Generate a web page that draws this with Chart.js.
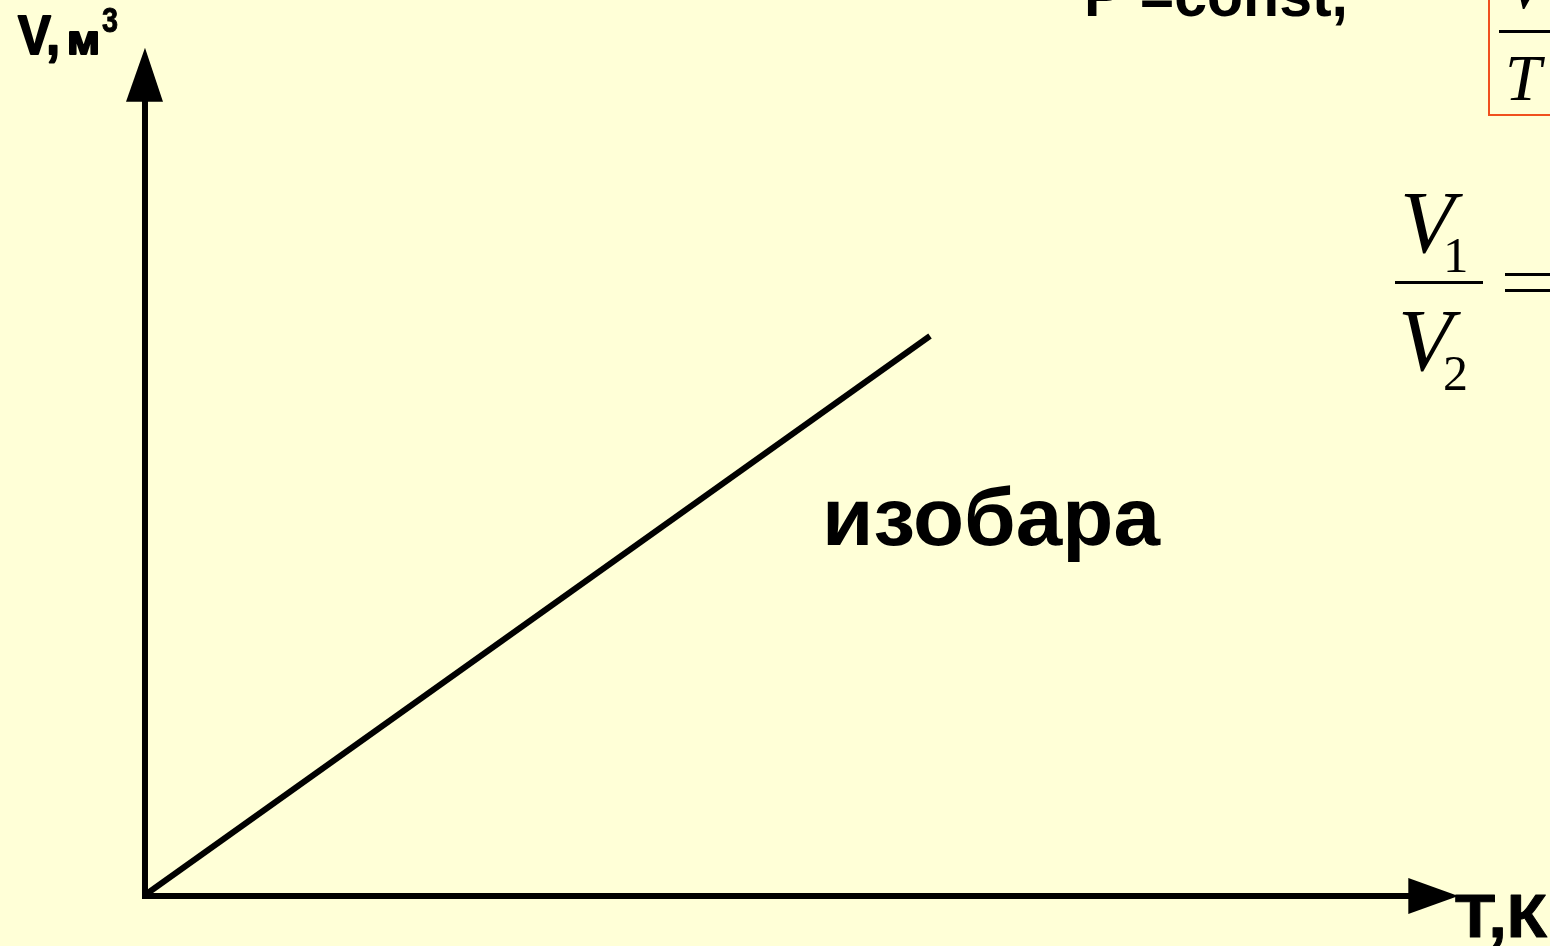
<!DOCTYPE html>
<html lang="ru">
<head>
  <meta charset="UTF-8" />
  <title>Изобара</title>
  <script src="https://cdn.jsdelivr.net/npm/chart.js"></script>
  <style>
    html, body { margin: 0; padding: 0; background: #FFFFD7; overflow: hidden; }
    canvas { display: block; }
  </style>
</head>
<body>
  <canvas id="isobar" width="1550" height="946"></canvas>

  <script>
    // isobar line: V grows linearly with T
    const temperature = [0, 100];
    const volume = [0, 70];

    // axis extents (in data units, where the arrow tips land)
    const tAxisRange = [-18.47, 178.98];
    const vAxisRange = [-6.39, 112.07];
    const tArrowTip = 167.3;
    const vArrowTip = 106.1;

    const axisLabelV = 'V,';
    const axisLabelVUnit = 'м';
    const axisLabelVPow = '3';
    const axisLabelT = 'Т,К';
    const lineLabel = 'изобара';
    const conditionLabel = 'Р =const,';

    const BG = '#FFFFD7';
    const SANS = '"Liberation Sans", Arial, sans-serif';
    const SERIF = '"Liberation Serif", "Times New Roman", serif';

    // draw text fitted to a given width, baseline at y
    function fitText(ctx, text, font, size, x, y, width, heavy) {
      ctx.save();
      ctx.font = font.replace('%s', size + 'px');
      const w = ctx.measureText(text).width;
      ctx.translate(x, y);
      ctx.scale(width ? width / w : 1, 1);
      ctx.fillText(text, 0, 0);
      if (heavy) {
        ctx.lineWidth = heavy;
        ctx.lineJoin = 'round';
        ctx.strokeStyle = ctx.fillStyle;
        ctx.strokeText(text, 0, 0);
      }
      ctx.restore();
    }

    const backdrop = {
      id: 'backdrop',
      beforeDraw(chart) {
        const ctx = chart.ctx;
        ctx.save();
        ctx.fillStyle = BG;
        ctx.fillRect(0, 0, chart.width, chart.height);
        ctx.restore();
      }
    };

    const axesArrows = {
      id: 'axesArrows',
      beforeDatasetsDraw(chart) {
        const ctx = chart.ctx;
        const xs = chart.scales.x, ys = chart.scales.y;
        const ox = xs.getPixelForValue(0);
        const oy = ys.getPixelForValue(0);
        const tipX = xs.getPixelForValue(tArrowTip);
        const tipY = ys.getPixelForValue(vArrowTip);
        ctx.save();
        ctx.fillStyle = '#000';
        ctx.strokeStyle = '#000';
        ctx.lineWidth = 6;
        ctx.lineCap = 'butt';
        // vertical axis
        ctx.beginPath();
        ctx.moveTo(ox, oy + 4);
        ctx.lineTo(ox, tipY + 50);
        ctx.stroke();
        ctx.beginPath();
        ctx.moveTo(ox, tipY);
        ctx.lineTo(ox - 19, tipY + 54);
        ctx.lineTo(ox + 18, tipY + 54);
        ctx.closePath();
        ctx.fill();
        // horizontal axis
        ctx.beginPath();
        ctx.moveTo(ox, oy + 1);
        ctx.lineTo(tipX - 46, oy + 1);
        ctx.stroke();
        ctx.beginPath();
        ctx.moveTo(tipX, oy + 1);
        ctx.lineTo(tipX - 50, oy - 17);
        ctx.lineTo(tipX - 50, oy + 19);
        ctx.closePath();
        ctx.fill();
        ctx.restore();
      },
      afterDraw(chart) {
        const ctx = chart.ctx;
        ctx.save();
        ctx.fillStyle = '#000';
        ctx.textBaseline = 'alphabetic';
        const bold = 'bold %s ' + SANS;
        const ital = 'italic %s ' + SERIF;

        // axis labels
        fitText(ctx, axisLabelV, bold, 55, 18, 54, 42, 2);
        fitText(ctx, axisLabelVUnit, bold, 40, 67, 54, 33, 2);
        fitText(ctx, axisLabelVPow, bold, 35, 102, 32, 16, 1);
        fitText(ctx, axisLabelT, bold, 62, 1455, 937, 92, 1);
        fitText(ctx, lineLabel, bold, 82, 822, 545, 338);
        fitText(ctx, conditionLabel, bold, 62, 1084, 16, 264);

        // boxed formula (cut off at right edge)
        ctx.strokeStyle = '#F0501E';
        ctx.lineWidth = 2;
        ctx.strokeRect(1489, -10, 120, 125);
        ctx.fillRect(1499, 30, 60, 3);
        fitText(ctx, 'V', ital, 65, 1506, 8);
        fitText(ctx, 'T', ital, 65, 1505, 100);

        // V1 / V2 =
        fitText(ctx, 'V', ital, 89, 1400, 252);
        fitText(ctx, '1', 'normal %s ' + SERIF, 51, 1443, 272);
        ctx.fillRect(1395, 281, 88, 3);
        fitText(ctx, 'V', ital, 89, 1398, 370);
        fitText(ctx, '2', 'normal %s ' + SERIF, 50, 1443, 390);
        ctx.fillRect(1505, 273, 60, 3);
        ctx.fillRect(1505, 289, 60, 3);
        ctx.restore();
      }
    };

    new Chart(document.getElementById('isobar'), {
      type: 'scatter',
      data: {
        datasets: [{
          label: lineLabel,
          data: temperature.map((t, i) => ({ x: t, y: volume[i] })),
          showLine: true,
          borderColor: '#000',
          borderWidth: 6,
          borderCapStyle: 'butt',
          pointRadius: 0,
          fill: false
        }]
      },
      options: {
        responsive: false,
        animation: false,
        devicePixelRatio: 1,
        events: [],
        layout: { padding: 0 },
        plugins: { legend: { display: false }, tooltip: { enabled: false } },
        scales: {
          x: { type: 'linear', display: false, min: tAxisRange[0], max: tAxisRange[1] },
          y: { type: 'linear', display: false, min: vAxisRange[0], max: vAxisRange[1] }
        }
      },
      plugins: [backdrop, axesArrows]
    });
  </script>
</body>
</html>
